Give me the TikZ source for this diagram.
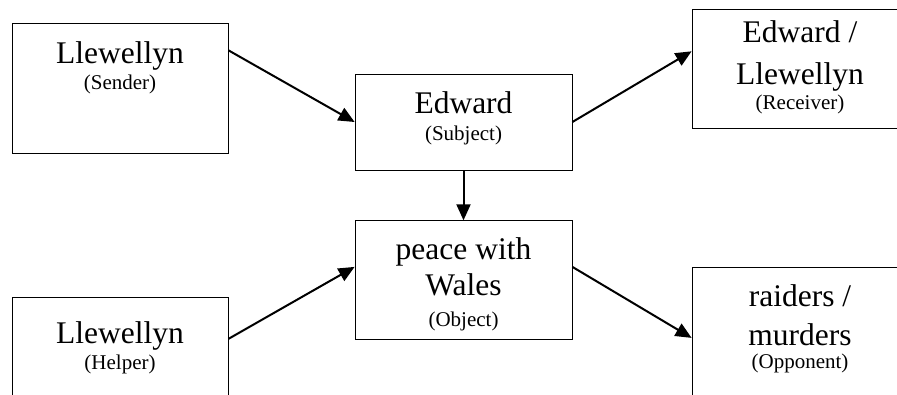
\documentclass[tikz,border=0pt]{standalone}
\usepackage{fontspec}
\setmainfont{Liberation Serif}
\usetikzlibrary{arrows.meta,positioning}
\newcommand{\actfont}{\fontsize{31.5}{36}\selectfont}
\newcommand{\rolefont}{\fontsize{21}{25}\selectfont}

\begin{document}
\begin{tikzpicture}[x=1pt,y=-1pt,
    abox/.style={draw,line width=0.8pt,minimum width=216pt,inner sep=0pt},
    atext/.style={anchor=north,align=center,inner sep=0pt,font=\actfont},
    aarr/.style={-{Triangle[length=16pt,width=14pt]},line width=2pt}
    ]
    \clip (0,0) rectangle (897,395);
    % actant boxes
    \node[abox,minimum height=130pt] (sender) at (120,88.3) {};
    \node[abox,minimum width=217pt,minimum height=96pt] (subject) at (463.5,122) {};
    \node[abox,minimum height=119pt] (receiver) at (800,68.8) {};
    \node[abox,minimum width=217pt,minimum height=118.6pt] (object) at (463.5,280) {};
    \node[abox,minimum height=130pt] (helper) at (120,362.3) {};
    \node[abox,minimum height=130pt] (opponent) at (800,332.7) {};
    % texts
    \node[atext,yshift=-19pt] (sendertxt) at (sender.north) {Llewellyn\\[-10pt]{\rolefont (Sender)}};
    \node[atext,yshift=-18pt] (subjecttxt) at (subject.north) {Edward\\[-9pt]{\rolefont (Subject)}};
    \node[atext,yshift=-12pt] (receivertxt) at (receiver.north) {Edward /\\[6pt]Llewellyn\\[-11pt]{\rolefont (Receiver)}};
    \node[atext,yshift=-17pt] (objecttxt) at (object.north) {peace with\\Wales\\[-5pt]{\rolefont (Object)}};
    \node[atext,yshift=-25pt] (helpertxt) at (helper.north) {Llewellyn\\[-10pt]{\rolefont (Helper)}};
    \node[atext,yshift=-17pt] (opponenttxt) at (opponent.north) {raiders /\\[3pt]murders\\[-13pt]{\rolefont (Opponent)}};
    % arrows
    \draw[aarr] ([yshift=-27.4pt]sender.north east) -- (subject.west);
    \draw[aarr] (subject.east) -- ([yshift=-42.4pt]receiver.north west);
    \draw[aarr] (subject.south) -- (object.north);
    \draw[aarr] ([yshift=-42pt]helper.north east) -- ([yshift=-46.6pt]object.north west);
    \draw[aarr] ([yshift=-46.6pt]object.north east) -- ([yshift=-70.6pt]opponent.north west);
\end{tikzpicture}
\end{document}
